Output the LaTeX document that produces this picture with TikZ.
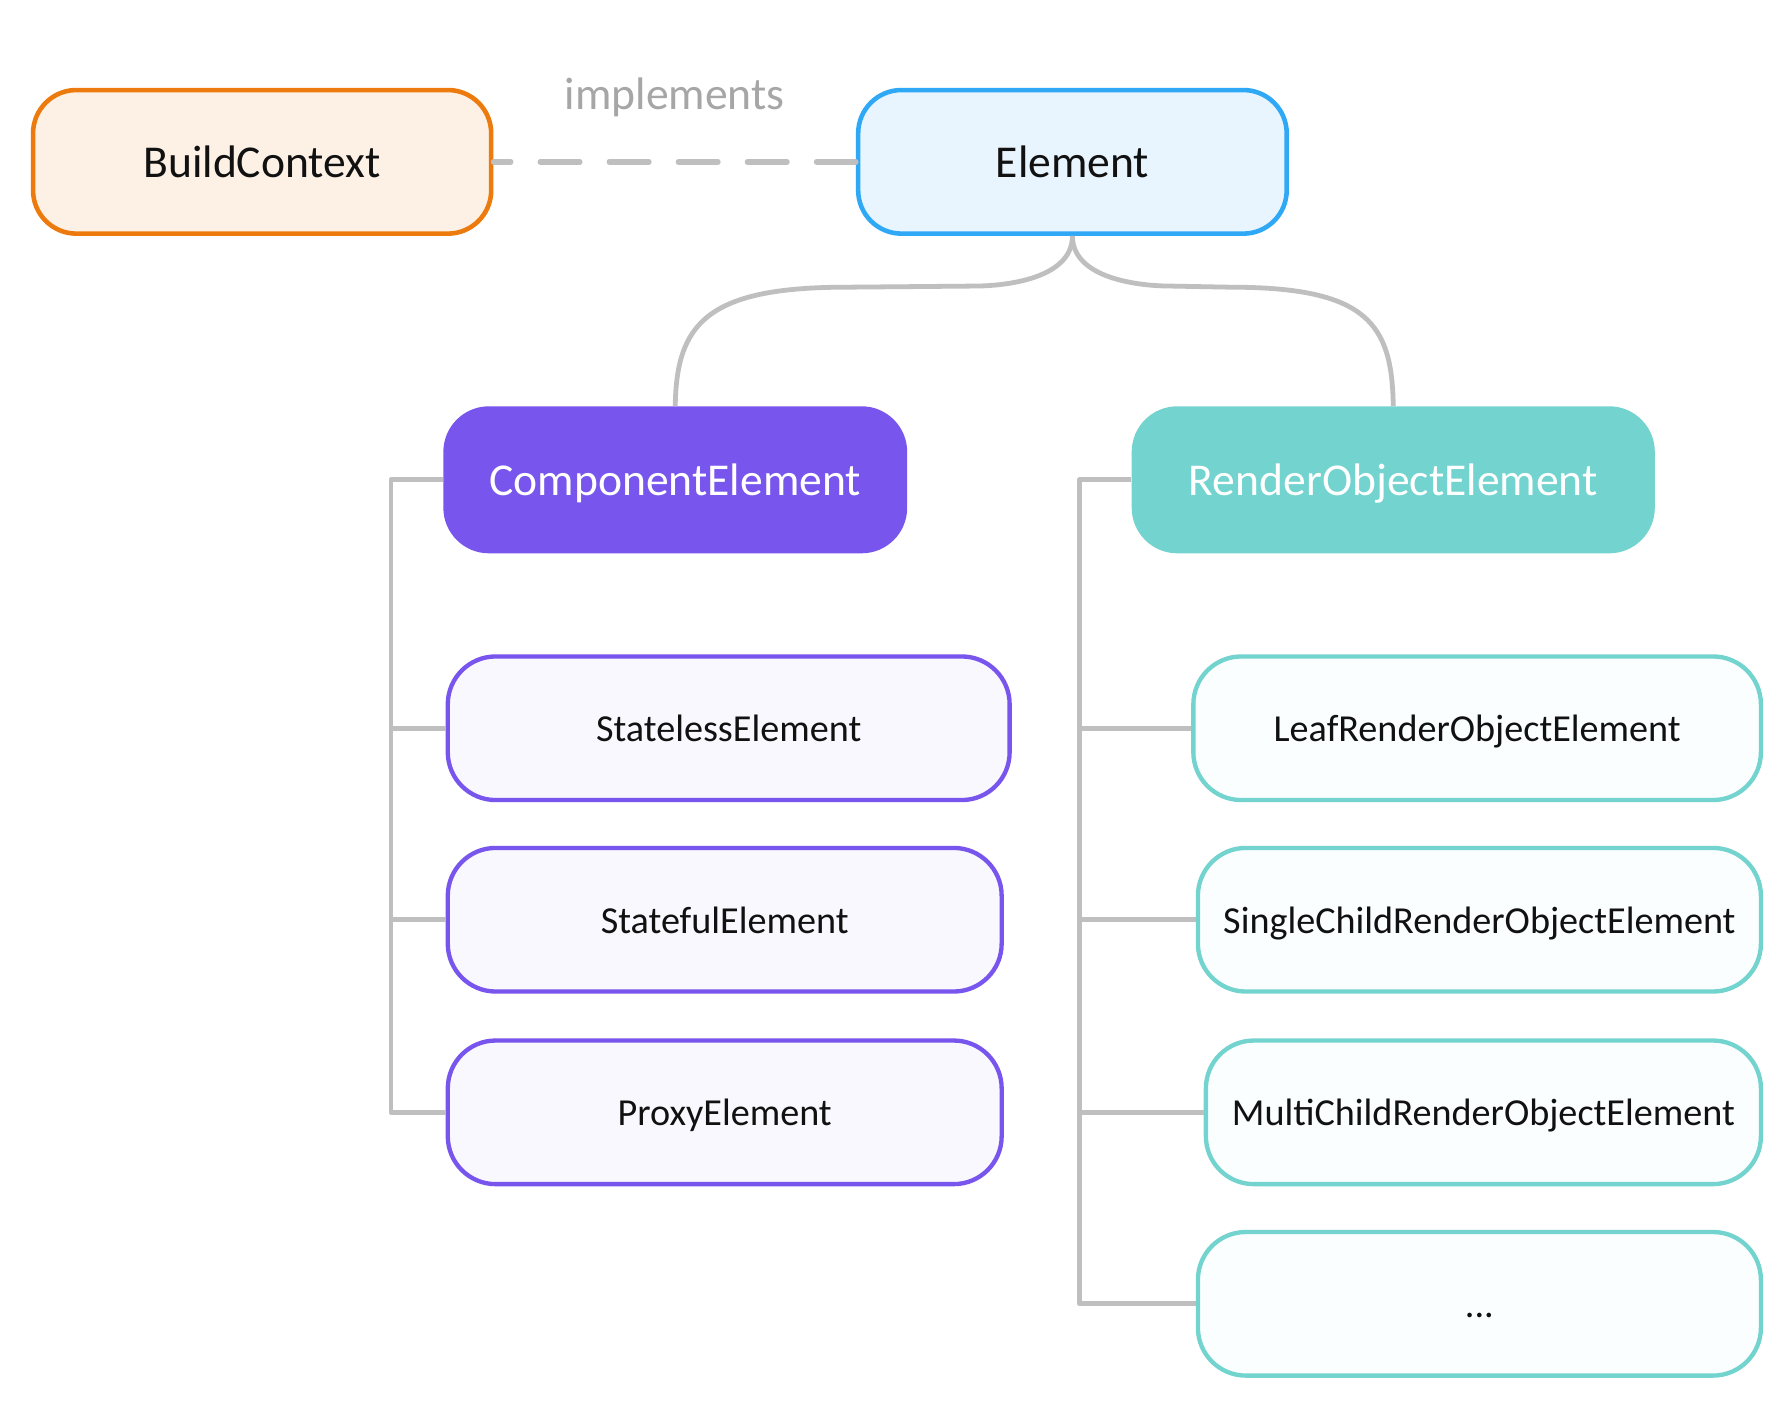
\documentclass[tikz,border=0pt]{standalone}
\usepackage{fontspec}
\setmainfont{Carlito}
\usetikzlibrary{positioning, calc}
\definecolor{ctxorange}{HTML}{EC7A0C}
\definecolor{ctxfill}{HTML}{FDF1E6}
\definecolor{elblue}{HTML}{2FA8F5}
\definecolor{elfill}{HTML}{E8F5FE}
\definecolor{cmpurple}{HTML}{7856EE}
\definecolor{cmfill}{HTML}{F9F8FE}
\definecolor{roteal}{HTML}{72D3CF}
\definecolor{rofill}{HTML}{FAFEFE}
\definecolor{lngray}{HTML}{BFBFBF}
\definecolor{lblgray}{HTML}{A6A6A6}
\definecolor{txtblack}{HTML}{111111}

\begin{document}
\begin{tikzpicture}[
  x=1pt, y=-1pt,
  every node/.style={text=txtblack, font=\fontsize{40}{48}\selectfont, text height=28pt, text depth=0pt},
  topbox/.style={rounded corners=38pt, line width=4pt, minimum width=402pt, minimum height=126pt, inner sep=0pt},
  headbox/.style={rounded corners=40pt, minimum height=129pt, inner sep=0pt, text=white},
  subbox/.style={rounded corners=42pt, line width=3.8pt, minimum height=126pt, inner sep=0pt, text height=23.5pt, font=\fontsize{33.5}{40}\selectfont},
  cmsub/.style={subbox, draw=cmpurple, fill=cmfill, anchor=west},
  rosub/.style={subbox, draw=roteal, fill=rofill, anchor=east},
  link/.style={lngray, line width=4.2pt, line join=round},
]

% Background
\fill[white] (0,0) rectangle (1568,1229);
\useasboundingbox (0,0) rectangle (1568,1229);

% Top row
\node[topbox, draw=ctxorange, fill=ctxfill] (ctx) at (230,142) {BuildContext};
\node[topbox, draw=elblue, fill=elfill, minimum width=376pt] (elem) at (941,142) {Element};
\node[text=lblgray] (impl) at (592,82) {implements};
\draw[link, line width=4.7pt, line cap=round, dash pattern=on 34.8pt off 25.8pt, dash phase=19.6pt] (ctx.east) -- (elem.west);

% Second level
\node[headbox, fill=cmpurple, minimum width=407pt] (comp) at (592.5,421) {ComponentElement};
\node[headbox, fill=roteal, minimum width=459pt] (robj) at (1222.5,421) {RenderObjectElement};

% Curves from Element
\draw[link] (elem.south) .. controls +(0,38) and +(26,0) .. (855,251) -- (742,252)
  .. controls +(-122,0) and +(1,-72) .. (comp.north);
\draw[link] (elem.south) .. controls +(0,38) and +(-26,0) .. (1027,251) -- (1080,252)
  .. controls +(120,0) and +(-1,-72) .. (robj.north);

% Component children
\node[cmsub, minimum width=493pt] (stateless) at (391,639) {StatelessElement};
\node[cmsub, minimum width=486pt] (stateful) at (391,807) {StatefulElement};
\node[cmsub, minimum width=486pt] (proxy) at (391,976) {ProxyElement};

% RenderObject children
\node[rosub, minimum width=498pt] (leaf) at (1547,639) {LeafRenderObjectElement};
\node[rosub, minimum width=494pt] (single) at (1547,807) {SingleChildRenderObjectElement};
\node[rosub, minimum width=487pt] (multi) at (1547,976) {MultiChildRenderObjectElement};
\node[rosub, minimum width=494pt] (more) at (1547,1144) {...};

% Brackets
\coordinate (lbus) at (343,0);
\coordinate (rbus) at (947,0);
\draw[link] (comp.west) -- (comp.west -| lbus) |- (proxy.west);
\foreach \n in {stateless, stateful}
  \draw[link] (\n.west) -- (\n.west -| lbus);
\draw[link] (robj.west) -- (robj.west -| rbus) |- (more.west);
\foreach \n in {leaf, single, multi}
  \draw[link] (\n.west) -- (\n.west -| rbus);

\end{tikzpicture}
\end{document}
